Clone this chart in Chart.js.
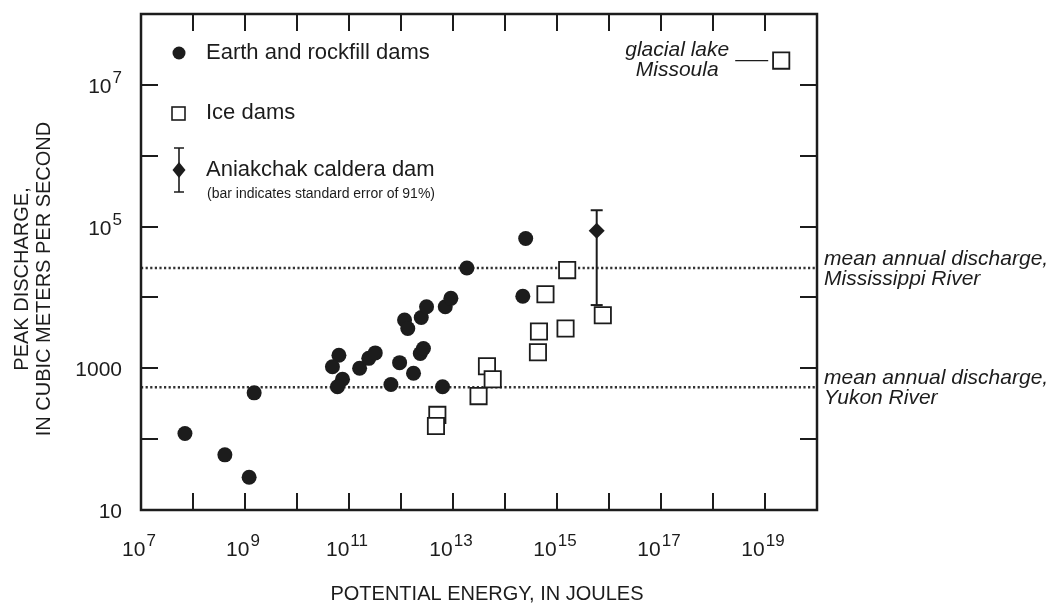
<!DOCTYPE html>
<html>
<head>
<meta charset="utf-8">
<title>Peak discharge vs potential energy</title>
<script src="https://cdn.jsdelivr.net/npm/chart.js@4.4.1/dist/chart.umd.min.js"></script>
<style>
  html, body { margin: 0; padding: 0; background: #fff; }
  #wrap { width: 1057px; height: 605px; position: relative; }
</style>
</head>
<body>
<div id="wrap"><canvas id="myChart"></canvas></div>
<script>
// values (energy in joules, discharge in m3/s)
const earthEnergy = [7.0e7, 4.1e8, 1.2e9, 1.5e9, 6.4e10, 4.8e10, 7.5e10, 6.0e10, 1.6e11, 2.4e11, 3.2e11, 6.4e11, 9.4e11,
  1.17e12, 1.35e12, 1.74e12, 2.35e12, 2.7e12, 2.45e12, 3.1e12, 7.1e12, 9.1e12, 6.3e12, 1.85e13, 2.5e14, 2.2e14];
const earthDischarge = [120, 60, 29, 450, 1530, 1050, 700, 550, 1000, 1380, 1650, 590, 1200,
  4800, 3650, 850, 1620, 1900, 5200, 7400, 7400, 9700, 550, 26000, 68000, 10400];

const iceEnergy = [1.57e15, 6.0e14, 7.6e15, 4.5e14, 1.46e15, 4.3e14, 4.5e13, 5.8e13, 3.1e13, 5.0e12, 4.7e12, 2.05e19];
const iceDischarge = [24300, 11100, 5600, 3300, 3650, 1680, 1070, 700, 405, 220, 153, 2.2e7];
const missoulaIndex = 11; // glacial lake Missoula

const aniakchakEnergy = 5.8e15;
const aniakchakDischarge = 87000;
const aniakchakLow = 7800;
const aniakchakHigh = 170000;

const riverNames = ["Mississippi River", "Yukon River"];
const riverDischarge = [26000, 540];

// axis ticks and labels
const xMin = 1e7, xMax = 1e20, yMin = 10, yMax = 1e8;
const xTickValues = [1e8, 1e9, 1e10, 1e11, 1e12, 1e13, 1e14, 1e15, 1e16, 1e17, 1e18, 1e19];
const yTickValues = [100, 1000, 1e4, 1e5, 1e6, 1e7];
const xLabelValues = [1e7, 1e9, 1e11, 1e13, 1e15, 1e17, 1e19];
const xLabelText = ["10^7", "10^9", "10^11", "10^13", "10^15", "10^17", "10^19"];
const yLabelValues = [10, 1000, 1e5, 1e7];
const yLabelText = ["10", "1000", "10^5", "10^7"];

const ink = "#1c1c1c";
const fam = "'Liberation Sans', Arial, Helvetica, sans-serif";

function toPoints(xs, ys) {
  return xs.map((x, i) => ({ x: x, y: ys[i] }));
}

function powerLabel(ctx, text, x, baseY, align) {
  const parts = text.split("^");
  ctx.font = "21px " + fam;
  const wBase = ctx.measureText(parts[0]).width;
  ctx.font = "17px " + fam;
  const wSup = parts[1] ? ctx.measureText(parts[1]).width + 1 : 0;
  const total = wBase + wSup;
  const start = align === "center" ? x - total / 2 : x - total;
  ctx.textAlign = "left";
  ctx.textBaseline = "alphabetic";
  ctx.font = "21px " + fam;
  ctx.fillText(parts[0], start, baseY);
  if (parts[1]) {
    ctx.font = "17px " + fam;
    ctx.fillText(parts[1], start + wBase + 1, baseY - 10);
  }
}

// frame, inward ticks, labels, legend and notes
const decorations = {
  id: "decorations",
  afterDatasetsDraw(chart) {
    const ctx = chart.ctx;
    const a = chart.chartArea;
    const xs = chart.scales.x;
    const ys = chart.scales.y;
    ctx.save();
    ctx.strokeStyle = ink;
    ctx.fillStyle = ink;
    ctx.lineWidth = 2.5;
    ctx.strokeRect(a.left, a.top, a.right - a.left, a.bottom - a.top);

    const tick = 17;
    ctx.lineWidth = 2;
    ctx.beginPath();
    xTickValues.forEach(v => {
      const px = Math.round(xs.getPixelForValue(v));
      ctx.moveTo(px, a.bottom); ctx.lineTo(px, a.bottom - tick);
      ctx.moveTo(px, a.top); ctx.lineTo(px, a.top + tick);
    });
    yTickValues.forEach(v => {
      const py = Math.round(ys.getPixelForValue(v));
      ctx.moveTo(a.left, py); ctx.lineTo(a.left + tick, py);
      ctx.moveTo(a.right, py); ctx.lineTo(a.right - tick, py);
    });
    ctx.stroke();

    xLabelValues.forEach((v, i) => {
      powerLabel(ctx, xLabelText[i], xs.getPixelForValue(v) - 2, a.bottom + 46, "center");
    });
    yLabelValues.forEach((v, i) => {
      powerLabel(ctx, yLabelText[i], a.left - 19, ys.getPixelForValue(v) + 8, "right");
    });

    // axis titles
    ctx.font = "20px " + fam;
    ctx.textAlign = "center";
    ctx.textBaseline = "middle";
    ctx.fillText("POTENTIAL ENERGY, IN JOULES", 487, 594);
    ctx.save();
    ctx.translate(22, 279);
    ctx.rotate(-Math.PI / 2);
    ctx.fillText("PEAK DISCHARGE,", 0, 0);
    ctx.restore();
    ctx.save();
    ctx.translate(44, 279);
    ctx.rotate(-Math.PI / 2);
    ctx.fillText("IN CUBIC METERS PER SECOND", 0, 0);
    ctx.restore();

    // legend
    const lx = a.left + 38;
    ctx.beginPath();
    ctx.arc(lx, 53, 6.5, 0, Math.PI * 2);
    ctx.fill();
    ctx.fillStyle = "#fff";
    ctx.fillRect(lx - 7, 107, 13, 13);
    ctx.fillStyle = ink;
    ctx.lineWidth = 1.6;
    ctx.strokeRect(lx - 7, 107, 13, 13);
    ctx.beginPath();
    ctx.moveTo(lx, 148); ctx.lineTo(lx, 192);
    ctx.moveTo(lx - 5, 148); ctx.lineTo(lx + 5, 148);
    ctx.moveTo(lx - 5, 192); ctx.lineTo(lx + 5, 192);
    ctx.stroke();
    ctx.beginPath();
    ctx.moveTo(lx, 162); ctx.lineTo(lx + 6.5, 170); ctx.lineTo(lx, 178); ctx.lineTo(lx - 6.5, 170);
    ctx.closePath();
    ctx.fill();

    ctx.textAlign = "left";
    ctx.textBaseline = "middle";
    ctx.font = "22px " + fam;
    ctx.fillText("Earth and rockfill dams", lx + 27, 53);
    ctx.fillText("Ice dams", lx + 27, 113);
    ctx.fillText("Aniakchak caldera dam", lx + 27, 170);
    ctx.font = "14px " + fam;
    ctx.fillText("(bar indicates standard error of 91%)", lx + 28, 194);

    // river reference lines notes
    ctx.font = "italic 21px " + fam;
    riverNames.forEach((name, i) => {
      const py = ys.getPixelForValue(riverDischarge[i]);
      ctx.fillText("mean annual discharge,", a.right + 7, py - 9);
      ctx.fillText(name, a.right + 7, py + 11);
    });

    // glacial lake Missoula note
    const mx = xs.getPixelForValue(iceEnergy[missoulaIndex]);
    const my = ys.getPixelForValue(iceDischarge[missoulaIndex]);
    ctx.textAlign = "center";
    ctx.fillText("glacial lake", mx - 104, my - 10);
    ctx.fillText("Missoula", mx - 104, my + 10);
    ctx.lineWidth = 1.2;
    ctx.beginPath();
    ctx.moveTo(mx - 46, my); ctx.lineTo(mx - 13, my);
    ctx.stroke();
    ctx.restore();
  }
};

const ctx = document.getElementById("myChart").getContext("2d");
new Chart(ctx, {
  type: "scatter",
  data: {
    datasets: [
      {
        label: "Earth and rockfill dams",
        data: toPoints(earthEnergy, earthDischarge),
        pointStyle: "circle",
        pointRadius: 7.5,
        pointBorderWidth: 0,
        backgroundColor: ink,
        borderColor: ink,
        order: 1
      },
      {
        label: "Ice dams",
        data: toPoints(iceEnergy, iceDischarge),
        pointStyle: "rect",
        pointRadius: 11.5,
        pointBorderWidth: 1.8,
        backgroundColor: "#fff",
        borderColor: ink,
        order: 1
      },
      {
        label: "error bar",
        type: "line",
        showLine: true,
        data: [{ x: aniakchakEnergy, y: aniakchakLow }, { x: aniakchakEnergy, y: aniakchakHigh }],
        borderColor: ink,
        borderWidth: 2,
        pointStyle: "line",
        pointRadius: 6,
        pointBorderWidth: 2,
        pointBorderColor: ink,
        order: 2
      },
      {
        label: "Aniakchak caldera dam",
        data: [{ x: aniakchakEnergy, y: aniakchakDischarge }],
        pointStyle: "rectRot",
        pointRadius: 8,
        pointBorderWidth: 0,
        backgroundColor: ink,
        order: 0
      },
      ...riverNames.map((name, i) => ({
        label: name,
        type: "line",
        showLine: true,
        data: [{ x: xMin, y: riverDischarge[i] }, { x: xMax, y: riverDischarge[i] }],
        borderColor: "#333",
        borderWidth: 2.5,
        borderDash: [2.2, 2.4],
        pointRadius: 0,
        order: 3
      }))
    ]
  },
  options: {
    responsive: true,
    maintainAspectRatio: false,
    animation: false,
    layout: { padding: { left: 0, right: 240, top: 14, bottom: 0 } },
    plugins: {
      legend: { display: false },
      tooltip: { enabled: false }
    },
    scales: {
      x: {
        type: "logarithmic",
        min: xMin,
        max: xMax,
        ticks: { display: false },
        grid: { display: false },
        border: { display: false },
        afterFit: s => { s.height = 95; }
      },
      y: {
        type: "logarithmic",
        min: yMin,
        max: yMax,
        ticks: { display: false },
        grid: { display: false },
        border: { display: false },
        afterFit: s => { s.width = 141; }
      }
    }
  },
  plugins: [decorations]
});
</script>
</body>
</html>
